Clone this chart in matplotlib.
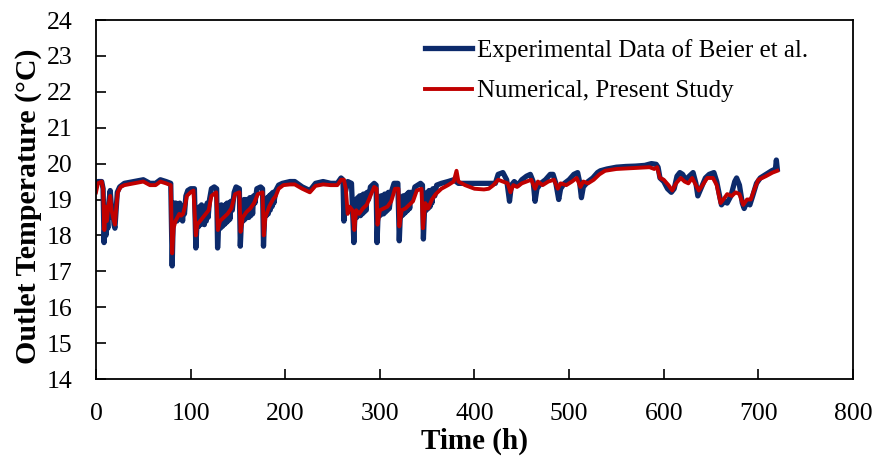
import numpy as np
import matplotlib
matplotlib.use("Agg")
import matplotlib.pyplot as plt

# (time h, outlet temperature degC)
exp_pts = [
    (0, 19.4), (2, 19.5), (6, 19.5), (7.5, 19.3), (8.5, 17.8), (9.5, 18.4), (10.5, 18.0),
    (11.5, 18.6), (12.5, 18.2), (13.5, 18.9), (15, 19.25), (16, 18.9), (17, 18.5), (18, 18.8),
    (19, 18.3), (20, 18.2), (21, 18.6), (22.5, 19.2), (25, 19.35), (30, 19.45),
    (40, 19.5), (50, 19.55), (57, 19.45), (63, 19.45), (68, 19.55), (74, 19.5), (79, 19.45),
    (80.5, 17.15), (81.5, 18.3), (82.5, 18.9), (83.5, 18.4), (84.5, 18.9), (85.5, 18.4),
    (86.5, 18.85), (87.5, 18.5), (88.5, 18.9), (89.5, 18.45), (90.5, 18.8), (91.5, 18.4),
    (92.5, 18.8), (93.5, 18.6), (95, 19.1), (97, 19.25), (100, 19.3), (104, 19.3),
    (105.5, 17.65), (106.5, 18.2), (107.5, 18.75), (108.5, 18.25), (109.5, 18.8), (110.5, 18.3),
    (111.5, 18.85), (112.5, 18.35), (113.5, 18.8), (114.5, 18.3), (115.5, 18.8), (116.5, 18.4),
    (117.5, 18.9), (118.5, 18.5), (120, 19.0), (122, 19.3), (125, 19.35), (127.5, 19.3),
    (128.5, 17.65), (129.5, 18.2), (130.5, 18.8), (131.5, 18.2), (132.5, 18.85), (133.5, 18.25),
    (134.5, 18.8), (135.5, 18.3), (136.5, 18.85), (137.5, 18.35), (138.5, 18.9), (139.5, 18.4),
    (140.5, 18.9), (141.5, 18.45), (142.5, 18.95), (144, 18.7), (146, 19.2), (148, 19.35),
    (151.5, 19.3), (152.5, 17.7), (153.5, 18.3), (154.5, 18.9), (155.5, 18.4), (156.5, 19.0),
    (157.5, 18.45), (158.5, 19.0), (159.5, 18.5), (160.5, 19.0), (161.5, 18.5), (162.5, 19.05),
    (163.5, 18.55), (164.5, 19.05), (165.5, 18.6), (166.5, 19.1), (168, 18.9), (170, 19.3),
    (174, 19.35), (176, 19.3), (177, 17.7), (178, 18.4), (179, 19.0), (180, 18.55), (181, 19.05),
    (182, 18.6), (183, 19.1), (184, 18.7), (185, 19.15), (186, 18.8), (187, 19.2), (188, 18.9),
    (190, 19.25), (193, 19.4), (197, 19.45), (205, 19.5), (210, 19.5), (218, 19.35),
    (226, 19.25), (232, 19.45), (240, 19.5), (248, 19.45), (255, 19.45), (259, 19.6),
    (261, 19.55), (262, 18.4), (263.5, 19.2), (266, 19.5), (270, 19.45), (272.5, 17.8),
    (273.5, 18.5), (274.5, 19.0), (275.5, 18.5), (276.5, 19.05), (277.5, 18.55), (278.5, 19.1),
    (279.5, 18.55), (280.5, 19.1), (281.5, 18.6), (282.5, 19.15), (283.5, 18.65), (284.5, 19.15),
    (285.5, 18.7), (286.5, 19.2), (288, 19.0), (290, 19.35), (294, 19.45), (296, 19.4),
    (297, 17.8), (298, 18.5), (299, 19.05), (300, 18.55), (301, 19.1), (302, 18.6), (303, 19.1),
    (304, 18.6), (305, 19.15), (306, 18.65), (307, 19.15), (308, 18.7), (309, 19.2), (310, 18.75),
    (312, 19.2), (315, 19.45), (319, 19.45), (320.5, 17.85), (321.5, 18.5), (322.5, 19.05),
    (323.5, 18.55), (324.5, 19.1), (325.5, 18.6), (326.5, 19.1), (327.5, 18.65), (328.5, 19.15),
    (329.5, 18.7), (330.5, 19.2), (331.5, 18.75), (332.5, 19.2), (334, 19.0), (337, 19.35),
    (343, 19.45), (345, 19.4), (346, 17.9), (347, 18.6), (348, 19.15), (349, 18.7), (350, 19.2),
    (351, 18.75), (352, 19.25), (353, 18.8), (354, 19.25), (355, 18.9), (356, 19.3), (358, 19.1),
    (360, 19.4), (365, 19.45), (372, 19.5), (378, 19.55), (383, 19.45), (422, 19.45),
    (425, 19.7), (430, 19.75), (434, 19.55), (437, 18.95), (439, 19.4), (442, 19.5), (446, 19.4),
    (450, 19.55), (455, 19.65), (459, 19.7), (462, 19.5), (464, 18.95), (466, 19.3), (470, 19.45),
    (475, 19.55), (480, 19.7), (483, 19.7), (486, 19.45), (489, 19.0), (491, 19.3), (495, 19.45),
    (500, 19.55), (505, 19.7), (509, 19.75), (511, 19.5), (513, 19.05), (515, 19.35), (520, 19.5),
    (525, 19.6), (530, 19.75), (533, 19.8), (540, 19.85), (550, 19.9), (560, 19.92), (570, 19.93),
    (580, 19.95), (587, 20.0), (592, 19.98), (594, 19.9), (596, 19.6), (600, 19.5), (604, 19.3),
    (608, 19.2), (611, 19.3), (614, 19.65), (617, 19.75), (620, 19.7), (623, 19.55), (627, 19.65),
    (631, 19.75), (634, 19.45), (636, 19.1), (640, 19.35), (644, 19.6), (648, 19.7), (653, 19.75),
    (656, 19.5), (659, 19.1), (661, 18.85), (664, 18.95), (667, 18.9), (671, 19.1), (675, 19.5),
    (677, 19.6), (680, 19.4), (683, 18.9), (685, 18.75), (688, 18.95), (691, 18.85), (694, 19.1),
    (698, 19.45), (702, 19.6), (708, 19.7), (714, 19.8), (718, 19.85), (719, 20.1), (720, 19.85),
]

num_pts = [
    (0, 19.2), (2, 19.45), (6, 19.5), (7.5, 19.3), (8.8, 18.15), (10, 18.8), (11.5, 18.4),
    (13, 18.8), (15, 19.1), (16.5, 18.7), (18, 18.5), (20, 18.3), (21.5, 18.8), (23, 19.2),
    (26, 19.35), (30, 19.4), (40, 19.45), (50, 19.5), (57, 19.4), (63, 19.4), (68, 19.5),
    (74, 19.45), (79, 19.4), (80.5, 17.5), (82, 18.2), (84, 18.4), (86, 18.5), (88, 18.6),
    (90, 18.55), (92, 18.6), (94, 18.8), (96, 19.1), (100, 19.2), (103, 19.25), (105.5, 18.0),
    (107, 18.3), (110, 18.4), (113, 18.5), (116, 18.6), (119, 18.7), (122, 19.1), (127, 19.2),
    (128.8, 18.15), (131, 18.4), (135, 18.5), (139, 18.6), (143, 18.75), (147, 19.15),
    (151.5, 19.2), (152.8, 18.1), (155, 18.5), (159, 18.65), (163, 18.75), (167, 18.9),
    (171, 19.15), (176, 19.2), (177.3, 18.0), (179, 18.5), (183, 18.8), (187, 19.0), (190, 19.1),
    (193, 19.3), (198, 19.4), (205, 19.42), (210, 19.42), (218, 19.3), (226, 19.2), (232, 19.38),
    (240, 19.42), (248, 19.4), (255, 19.4), (259, 19.55), (262, 19.55), (264, 19.3), (266, 18.6),
    (268, 18.8), (271, 18.7), (273, 18.15), (275, 18.7), (278, 18.6), (282, 18.75), (286, 18.85),
    (290, 19.1), (294, 19.35), (296.5, 19.3), (297.5, 18.3), (300, 18.7), (304, 18.75),
    (308, 18.8), (312, 18.95), (316, 19.3), (319.5, 19.3), (320.5, 18.25), (323, 18.7),
    (327, 18.75), (331, 18.85), (335, 18.95), (339, 19.25), (344, 19.3), (345.5, 18.2),
    (348, 18.9), (351, 18.75), (355, 19.0), (359, 19.15), (365, 19.3), (372, 19.4), (378, 19.5),
    (381, 19.8), (383, 19.5), (390, 19.4), (400, 19.3), (410, 19.28), (415, 19.3), (420, 19.4),
    (425, 19.55), (430, 19.5), (435, 19.45), (438, 19.2), (441, 19.4), (445, 19.35), (450, 19.45),
    (455, 19.5), (460, 19.55), (464, 19.3), (467, 19.5), (472, 19.4), (478, 19.5), (484, 19.55),
    (488, 19.3), (491, 19.45), (497, 19.4), (503, 19.5), (508, 19.6), (512, 19.35), (515, 19.5),
    (520, 19.45), (526, 19.55), (532, 19.7), (538, 19.8), (550, 19.85), (570, 19.88), (585, 19.9),
    (590, 19.85), (593, 19.9), (596, 19.6), (600, 19.55), (605, 19.4), (609, 19.25), (613, 19.45),
    (618, 19.6), (622, 19.5), (626, 19.45), (630, 19.6), (634, 19.4), (637, 19.25), (641, 19.4),
    (646, 19.6), (652, 19.6), (656, 19.4), (660, 18.9), (663, 19.0), (667, 19.15), (672, 19.1),
    (676, 19.2), (680, 19.15), (684, 18.85), (688, 19.0), (692, 19.0), (696, 19.3), (700, 19.55),
    (708, 19.65), (715, 19.75), (720, 19.8),
]

exp_t, exp_T = np.array(exp_pts).T
num_t, num_T = np.array(num_pts).T

x_ticks = np.arange(0, 801, 100)
y_ticks = np.arange(14, 25, 1)

plt.rcParams['font.family'] = ['Liberation Serif', 'DejaVu Serif']

fig = plt.figure(figsize=(8.79, 4.63), dpi=100)
ax = fig.add_axes([96 / 879, 1 - 379 / 463, (853 - 96) / 879, (379 - 20) / 463])

ax.plot(exp_t, exp_T, color='#0c2a6b', lw=3.8, label='Experimental Data of Beier et al.')
ax.plot(num_t, num_T, color='#c00000', lw=2.8, label='Numerical, Present Study')

ax.set_xlim(0, 800)
ax.set_ylim(14, 24)
ax.set_xticks(x_ticks)
ax.set_yticks(y_ticks)
ax.tick_params(direction='in', length=7, width=1.2, labelsize=18.5)
ax.tick_params(axis='x', pad=17)
ax.tick_params(axis='y', pad=17)
for s in ax.spines.values():
    s.set_linewidth(1.3)

ax.set_xlabel('Time (h)', fontsize=21, fontweight='bold')
ax.set_ylabel('Outlet Temperature (°C)', fontsize=21.5, fontweight='bold')
ax.xaxis.set_label_coords(0.5, (379 - 428) / 359)
ax.yaxis.set_label_coords((42 - 96) / 757, 0.48)

fig.legend(loc='upper left', bbox_to_anchor=(425 / 879, 1 - 39 / 463), frameon=False,
           fontsize=18, handlelength=1.9, handletextpad=0.2, labelspacing=0.72,
           borderpad=0, borderaxespad=0)

fig.savefig('out.png', dpi=100)
